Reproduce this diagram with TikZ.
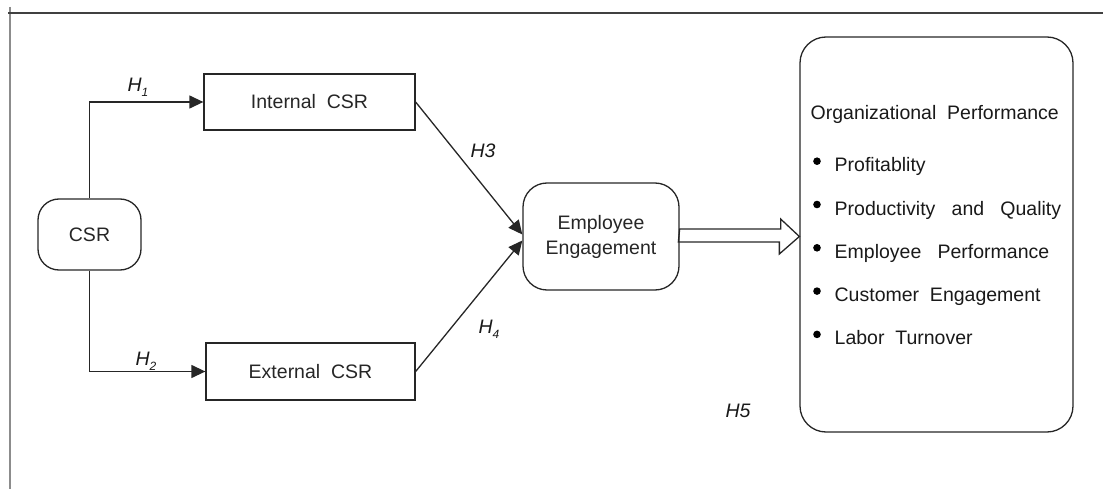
\documentclass[tikz,border=0pt]{standalone}
\usepackage{fontspec}
\setmainfont{Liberation Sans}
\usetikzlibrary{arrows.meta,positioning}

\begin{document}
\begin{tikzpicture}[x=1pt,y=-1pt,line width=1.3pt]
\tikzstyle{every node}+=[font=\fontsize{19.5}{25}\selectfont, text=black!90]
\tikzstyle{sqbox}=[draw, black!85, minimum width=211pt, minimum height=56pt]
\tikzstyle{rbox}=[draw, black!85, rounded corners=21pt, align=center]
\tikzstyle{hyp}=[font=\fontsize{19.5}{25}\selectfont\itshape, inner sep=1pt]
\tikzstyle{arr}=[draw, black!85, -{Triangle[length=14pt,width=13pt]}]
\useasboundingbox (0,0) rectangle (1103,489);
% page frame
\draw [black!45, line width=2.4pt] (10,7) -- (10,489);
\draw [black!75, line width=1.4pt] (8,13) -- (1103,13);
% boxes
\node [rbox, minimum width=103pt, minimum height=71pt] (csr) at (89.5,234.5) {CSR};
\node [sqbox] (int) at (309.5,102) {Internal\ \ CSR};
\node [sqbox, minimum width=209pt, minimum height=57pt] (ext) at (310.5,371.5) {External\ \ CSR};
\node [rbox, minimum width=156pt, minimum height=107pt, rounded corners=24pt] (ee) at (601,236.5) {Employee\\Engagement};
\node [rbox, minimum width=273pt, minimum height=395pt, rounded corners=26pt] (op) at (936.5,234.5) {};
% contents of the performance box
\node [anchor=base west, inner sep=0pt] (optitle) at (810,119.3) {Organizational\ \ Performance};
\foreach \item [count=\i] in {Profitablity, Productivity\ \ \ and\ \ \ Quality, Employee\ \ \ Performance, Customer\ \ Engagement, Labor\ \ Turnover} {
  \node [anchor=base west, inner sep=0pt] (it\i) at (834,171.7+43.3*\i-43.3) {\item};
  \fill [black] ([xshift=-17pt,yshift=10.5pt]it\i.base west) circle (3.8pt);
}
% paths
\draw [arr] (csr.north) |- (int.west);
\draw [arr] (csr.south) |- (ext.west);
\draw [arr] (int.east) -- ([yshift=2pt]ee.west);
\draw [arr] (ext.east) -- ([yshift=-4pt]ee.west);
\draw [black!85] (ee.east) ++(0,-7.5) -- ++(101,0) -- ++(0,-10) -- (op.west |- ee.east) -- ++(-20,17.5) -- ++(0,-12) -- ++(-101,0) -- cycle;
% hypotheses
\node [hyp] (h1) at (138,87) {H\raisebox{-5pt}{\fontsize{12}{12}\selectfont 1}};
\node [hyp] (h2) at (146,361) {H\raisebox{-5pt}{\fontsize{12}{12}\selectfont 2}};
\node [hyp] (h3) at (483,151) {H3};
\node [hyp] (h4) at (489,329) {H\raisebox{-5pt}{\fontsize{12}{12}\selectfont 4}};
\node [hyp] (h5) at (738,411) {H5};
\end{tikzpicture}
\end{document}
